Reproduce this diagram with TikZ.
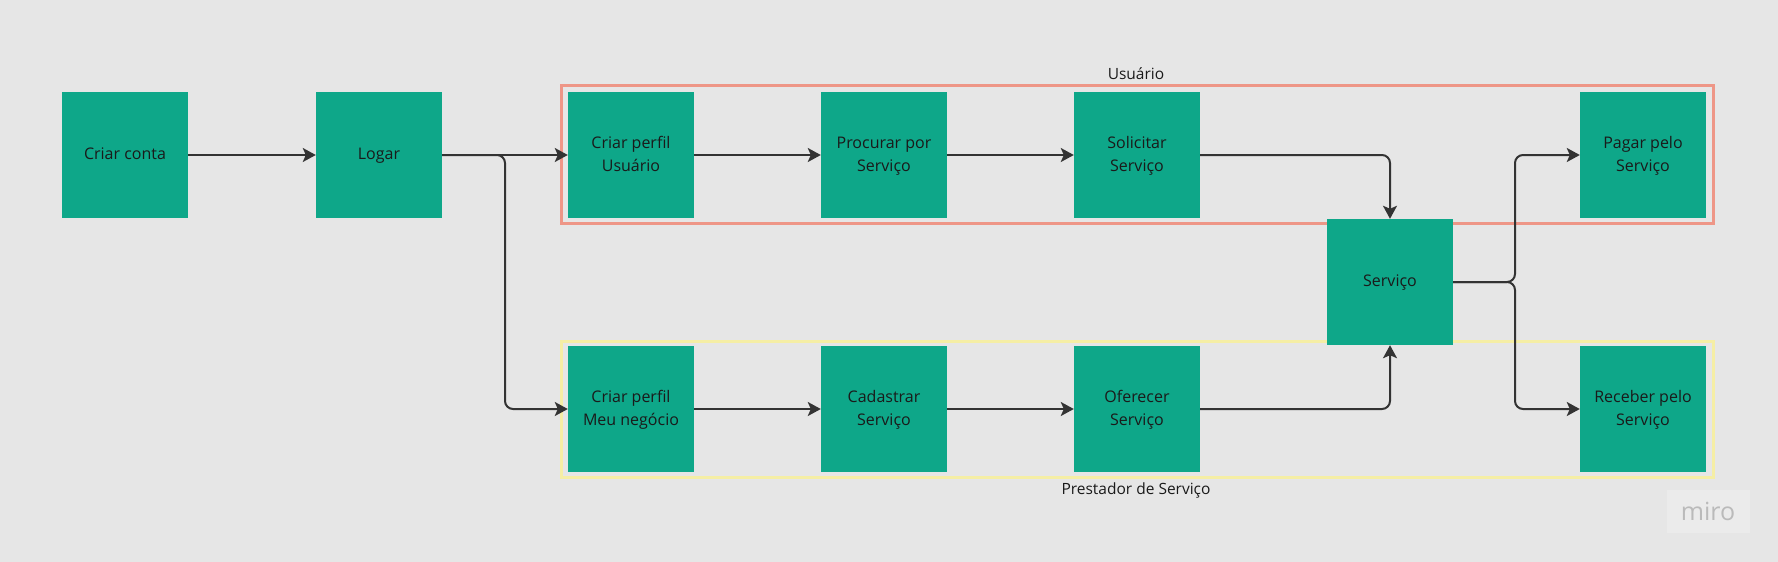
\documentclass[tikz,border=0pt]{standalone}
\usepackage{fontspec}
\setmainfont{Open Sans}
\usetikzlibrary{arrows.meta}
\definecolor{bg}{RGB}{230,230,230}
\definecolor{mgreen}{RGB}{14,167,137}
\definecolor{frred}{RGB}{238,150,135}
\definecolor{fryel}{RGB}{245,238,165}
\definecolor{txt}{RGB}{26,26,26}
\definecolor{conncol}{RGB}{51,51,51}
\definecolor{logobg}{RGB}{235,235,235}
\definecolor{logotxt}{RGB}{186,186,186}
\newcommand{\boxtxt}[1]{\raisebox{-2.2pt}{\begin{tabular}{@{}c@{}}#1\end{tabular}}}
\begin{document}
\begin{tikzpicture}[x=1pt,y=-1pt,
  box/.style={fill=mgreen, minimum width=126pt, minimum height=126pt, inner sep=0pt,
    text=txt, font=\fontsize{16}{23}\selectfont},
  conn/.style={draw=conncol, line width=2pt, rounded corners=8pt,
    -{Stealth[length=13pt,width=14pt,inset=3pt]}},
  frame/.style={line width=3pt, draw=#1},
  lbl/.style={text=txt, inner sep=0pt, font=\fontsize{15.5}{18}\selectfont}]
\fill[bg] (0,0) rectangle (1778,562);
\useasboundingbox (0,0) rectangle (1778,562);
% group frames
\draw[frame=frred] (561,85) rectangle (1713,223);
\draw[frame=fryel] (561,341) rectangle (1713,477);
\node[lbl] (lblU) at (1136,74) {Usuário};
\node[lbl] (lblP) at (1136,490) {Prestador de Serviço};
% boxes
\node[box] (conta)  at (125,155) {\boxtxt{Criar conta}};
\node[box] (logar)  at (379,155) {\boxtxt{Logar}};
\node[box] (perfilU) at (631,155) {\boxtxt{Criar perfil\\Usuário}};
\node[box] (procurar) at (884,155) {\boxtxt{Procurar por\\Serviço}};
\node[box] (solic) at (1137,155) {\boxtxt{Solicitar\\Serviço}};
\node[box] (serv) at (1390,282) {\boxtxt{Serviço}};
\node[box] (pagar) at (1643,155) {\boxtxt{Pagar pelo\\Serviço}};
\node[box] (perfilN) at (631,409) {\boxtxt{Criar perfil\\Meu negócio}};
\node[box] (cadastrar) at (884,409) {\boxtxt{Cadastrar\\Serviço}};
\node[box] (oferecer) at (1137,409) {\boxtxt{Oferecer\\Serviço}};
\node[box] (receber) at (1643,409) {\boxtxt{Receber pelo\\Serviço}};
% junction coordinates
\coordinate (j1) at (505,0);
\coordinate (j2) at (1515,0);
% connectors
\draw[conn] (conta.east) -- (logar.west);
\draw[conn] (logar.east) -- (perfilU.west);
\draw[conn] (logar.east) -- (logar.east -| j1) |- (perfilN.west);
\draw[conn] (perfilU.east) -- (procurar.west);
\draw[conn] (procurar.east) -- (solic.west);
\draw[conn] (perfilN.east) -- (cadastrar.west);
\draw[conn] (cadastrar.east) -- (oferecer.west);
\draw[conn] (solic.east) -| (serv.north);
\draw[conn] (oferecer.east) -| (serv.south);
\draw[conn] (serv.east) -- (serv.east -| j2) |- (pagar.west);
\draw[conn] (serv.east) -- (serv.east -| j2) |- (receber.west);
% watermark
\node[fill=logobg, minimum width=83pt, minimum height=43pt, inner sep=0pt,
  text=logotxt, font=\fontsize{25}{25}\selectfont] (miro) at (1708,511) {miro};
\end{tikzpicture}
\end{document}
